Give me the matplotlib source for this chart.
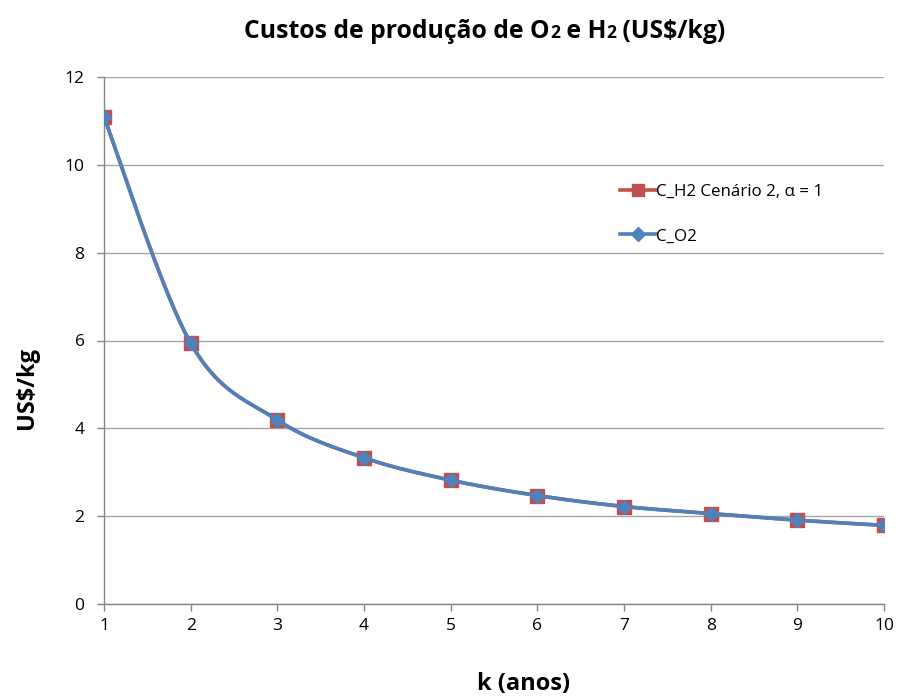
import numpy as np
import matplotlib
matplotlib.use("Agg")
import matplotlib.pyplot as plt
from matplotlib.offsetbox import TextArea, HPacker, AnchoredOffsetbox
from matplotlib.lines import Line2D

plt.rcParams['font.family'] = ['Open Sans', 'DejaVu Sans']

k_years = [1, 2, 3, 4, 5, 6, 7, 8, 9, 10]
c_h2 = [11.09, 5.94, 4.19, 3.33, 2.82, 2.47, 2.22, 2.06, 1.91, 1.79]
c_o2 = [11.09, 5.94, 4.19, 3.33, 2.82, 2.47, 2.22, 2.06, 1.91, 1.79]
label_h2 = "C_H2 Cenário 2, α = 1"
label_o2 = "C_O2"
y_ticks = [0, 2, 4, 6, 8, 10, 12]


def smooth(xs, ys, n=30):
    """Excel-style smoothed line (Catmull-Rom Bezier)."""
    xs = np.asarray(xs, float)
    ys = np.asarray(ys, float)
    px, py = [], []
    m = len(xs)
    for i in range(m - 1):
        x0, y0 = (xs[i - 1], ys[i - 1]) if i > 0 else (xs[i], ys[i])
        x1, y1 = xs[i], ys[i]
        x2, y2 = xs[i + 1], ys[i + 1]
        x3, y3 = (xs[i + 2], ys[i + 2]) if i + 2 < m else (xs[i + 1], ys[i + 1])
        c1x, c1y = x1 + (x2 - x0) / 6, y1 + (y2 - y0) / 6
        c2x, c2y = x2 - (x3 - x1) / 6, y2 - (y3 - y1) / 6
        t = np.linspace(0, 1, n)
        bx = (1 - t) ** 3 * x1 + 3 * (1 - t) ** 2 * t * c1x + 3 * (1 - t) * t ** 2 * c2x + t ** 3 * x2
        by = (1 - t) ** 3 * y1 + 3 * (1 - t) ** 2 * t * c1y + 3 * (1 - t) * t ** 2 * c2y + t ** 3 * y2
        px.extend(bx)
        py.extend(by)
    return np.array(px), np.array(py)


fig = plt.figure(figsize=(8.98, 6.97), dpi=100)
ax = fig.add_axes([104 / 898, 1 - 604 / 697, 780 / 898, 527 / 697])

red = '#C0504D'
blue = '#4F81BD'

sx, sy = smooth(k_years, c_h2)
ax.plot(sx, sy, color=red, lw=2.6, zorder=2)
ax.plot(k_years, c_h2, ls='none', marker='s', ms=9.5, color=red, zorder=3)
sx2, sy2 = smooth(k_years, c_o2)
ax.plot(sx2, sy2, color=blue, lw=2.6, zorder=4)
ax.plot(k_years, c_o2, ls='none', marker='D', ms=7.5, color=blue, zorder=5)

h1 = Line2D([], [], color=red, lw=2.6, marker='s', ms=8)
h2 = Line2D([], [], color=blue, lw=2.6, marker='D', ms=7)
leg = ax.legend([h1, h2], [label_h2, label_o2], loc='center left',
                bbox_to_anchor=((620 - 104) / 780, (604 - 214) / 527), frameon=False, fontsize=12.2,
                handlelength=2.1, handletextpad=0.05, labelspacing=1.7,
                borderpad=0, borderaxespad=0)

ax.set_xlim(1, 10)
ax.set_ylim(0, 12)
ax.set_xticks(k_years)
ax.set_yticks(y_ticks)
ax.tick_params(axis='both', labelsize=12.5, color='#868686', length=5, width=1)
ax.tick_params(axis='x', pad=5)
ax.tick_params(axis='y', pad=9)
ax.grid(axis='y', color='#A6A6A6', lw=1)
ax.set_axisbelow(True)
for s in ['top', 'right']:
    ax.spines[s].set_visible(False)
for s in ['left', 'bottom']:
    ax.spines[s].set_color('#868686')
    ax.spines[s].set_linewidth(1)

fig.text(27 / 898, 1 - 388 / 697, 'US$/kg', rotation=90, ha='center', va='center',
         fontsize=17, fontweight='bold')
fig.text(524 / 898, 1 - 684 / 697, 'k (anos)', ha='center', va='center',
         fontsize=17, fontweight='bold')

big = dict(fontsize=17.8, fontweight='bold', color='black')
small = dict(fontsize=12.5, fontweight='bold', color='black')
parts = [("Custos de produção de O", big), ("2", small), (" e H", big), ("2", small), (" (US$/kg)", big)]
areas = [TextArea(t, textprops=p) for t, p in parts]
box = HPacker(children=areas, align='baseline', pad=0, sep=0)
anch = AnchoredOffsetbox(loc='center', child=box, frameon=False,
                         bbox_to_anchor=(485 / 898, 1 - 31 / 697),
                         bbox_transform=fig.transFigure, pad=0, borderpad=0)
fig.add_artist(anch)

fig.savefig('out.png', dpi=100)
